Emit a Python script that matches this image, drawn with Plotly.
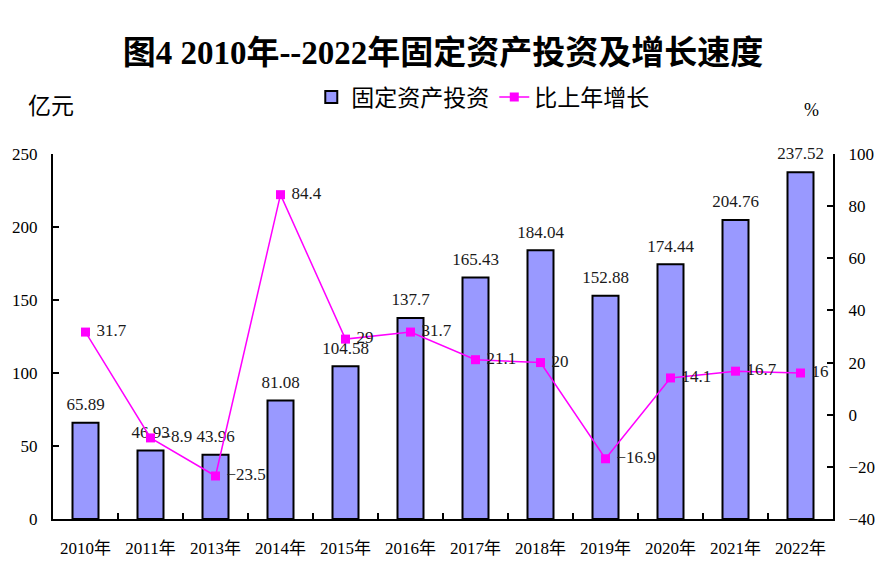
import plotly.graph_objects as go

YEARS = ["2010年", "2011年", "2013年", "2014年", "2015年", "2016年",
         "2017年", "2018年", "2019年", "2020年", "2021年", "2022年"]
INVEST = [65.89, 46.93, 43.96, 81.08, 104.58, 137.7,
          165.43, 184.04, 152.88, 174.44, 204.76, 237.52]
GROWTH = [31.7, -8.9, -23.5, 84.4, 29, 31.7, 21.1, 20, -16.9, 14.1, 16.7, 16]

FONT = "Liberation Serif, Noto Sans CJK SC, serif"
TEXT_COLOR = "#1a1a1a"

# the page adds an 8px body margin, so the figure is a bit smaller than the window
W, H = 870, 567


def fmt(v):
    return f"{v:g}".replace("-", "\u2212")


def main():
    fig = go.Figure()

    fig.add_trace(go.Bar(
        x=YEARS,
        y=INVEST,
        name="固定资产投资",
        marker=dict(color="#9999FF", line=dict(color="black", width=2)),
    ))

    # value labels above the bars, a bit further up than the bar's own outside text
    fig.add_trace(go.Scatter(
        x=YEARS,
        y=INVEST,
        mode="markers+text",
        marker=dict(size=12, opacity=0),
        text=[fmt(v) for v in INVEST],
        textposition="top center",
        textfont=dict(family=FONT, size=17, color=TEXT_COLOR),
        cliponaxis=False,
        showlegend=False,
        hoverinfo="skip",
    ))

    fig.add_trace(go.Scatter(
        x=YEARS,
        y=GROWTH,
        name="比上年增长",
        yaxis="y2",
        mode="lines+markers+text",
        line=dict(color="#FF00FF", width=1.5),
        marker=dict(symbol="square", size=9, color="#FF00FF"),
        text=["\u00a0" + fmt(v) for v in GROWTH],
        textposition="middle right",
        textfont=dict(family=FONT, size=17, color=TEXT_COLOR),
        cliponaxis=False,
    ))

    fig.add_annotation(text="亿元", xref="paper", yref="paper", x=-0.035, y=1.13,
                       xanchor="left", yanchor="middle", showarrow=False,
                       font=dict(family=FONT, size=23, color="black"))
    fig.add_annotation(text="%", xref="paper", yref="paper", x=0.973, y=1.12,
                       xanchor="center", yanchor="middle", showarrow=False,
                       font=dict(family=FONT, size=18, color="black"))

    axis_style = dict(
        showline=True, linecolor="black", linewidth=2,
        ticks="inside", ticklen=6, tickcolor="black", tickwidth=2,
        showgrid=False, zeroline=False, automargin=False,
        tickfont=dict(family=FONT, size=17, color="black"),
    )

    fig.update_layout(
        template="none",
        width=W,
        height=H,
        margin=dict(l=45, r=45, t=146, b=56),
        paper_bgcolor="white",
        plot_bgcolor="white",
        font=dict(family=FONT, size=17, color="black"),
        title=dict(
            text="<b>图4 2010年--2022年固定资产投资及增长速度</b>",
            x=0.5, xanchor="center", y=0.922, yanchor="middle",
            font=dict(family=FONT, size=33, color="black"),
        ),
        legend=dict(
            orientation="h", x=0.551, xanchor="center", y=1.156, yanchor="middle",
            font=dict(family=FONT, size=23, color="black"),
            bgcolor="rgba(0,0,0,0)",
        ),
        bargap=0.6,
        xaxis=dict(type="category", range=[-0.5, len(YEARS) - 0.5],
                   tickson="boundaries", ticklabelstandoff=13, **axis_style),
        yaxis=dict(range=[0, 250], dtick=50, ticklabelstandoff=10, **axis_style),
        yaxis2=dict(range=[-40, 100], dtick=20, overlaying="y", side="right",
                    ticklabelstandoff=10, **axis_style),
    )

    fig.write_html("out.html")


if __name__ == "__main__":
    main()
